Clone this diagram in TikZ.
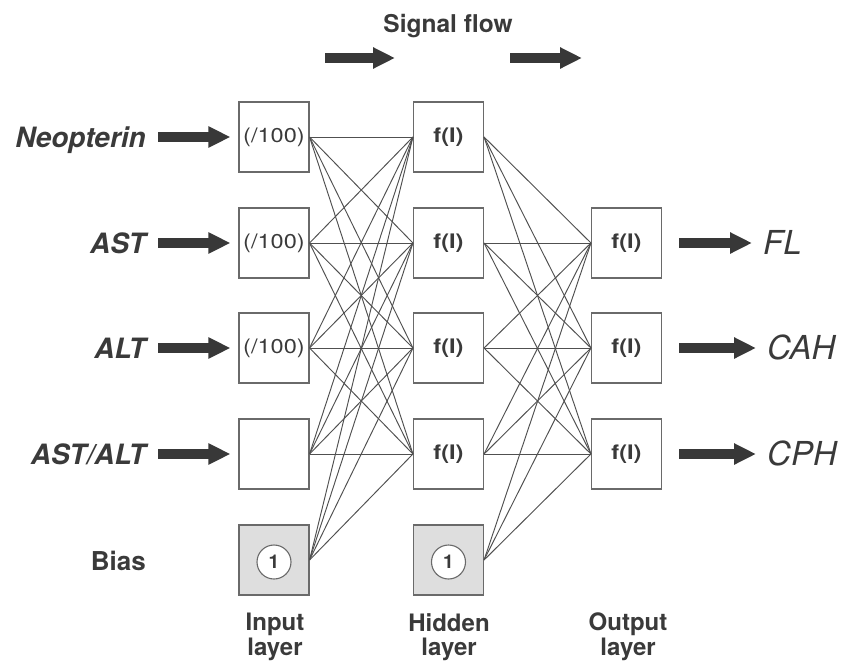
\documentclass[tikz,border=0pt]{standalone}
\usepackage{fontspec}
\usepackage{graphicx}
\setmainfont{TeX Gyre Heros}
\usetikzlibrary{arrows.meta}

\definecolor{ink}{HTML}{3A3A3A}
\definecolor{wirecol}{HTML}{505050}
\definecolor{framecol}{HTML}{6A6A6A}
\definecolor{stipple}{HTML}{DEDEDE}
\definecolor{fatcol}{HTML}{383838}

% text inside the units is set wide
\newcommand\unittext[1]{\scalebox{1.18}[1]{#1}}

\begin{document}
\begin{tikzpicture}[x=1pt,y=-1pt,
  unit/.style={draw=framecol, line width=1.1pt, minimum size=70pt, inner sep=0pt,
    text=ink, font=\fontsize{20}{24}\selectfont},
  biasunit/.style={unit, fill=stipple},
  onecircle/.style={circle, draw=framecol, line width=1.1pt, fill=white,
    minimum size=34pt, inner sep=0pt, text=ink, font=\fontsize{19}{22}\selectfont\bfseries},
  inlabel/.style={anchor=base east, inner sep=0pt, text=ink,
    font=\fontsize{28}{32}\selectfont\bfseries\itshape},
  outlabel/.style={anchor=base west, inner sep=0pt, text=ink,
    font=\fontsize{33}{36}\selectfont\itshape},
  layerlabel/.style={anchor=north, align=center, inner sep=0pt, text=ink,
    font=\fontsize{24}{24.5}\selectfont\bfseries},
  wire/.style={draw=wirecol, line width=0.95pt},
  fatarrow/.style={draw=fatcol, line width=10pt,
    -{Triangle[length=22pt,width=20pt]}},
]
\useasboundingbox (0,0) rectangle (844,662);

% --- title and flow arrows
\node[anchor=base, inner sep=0pt, text=ink, font=\fontsize{24.5}{28}\selectfont\bfseries]
  (title) at (448,32) {Signal flow};
\coordinate (s1a) at (325,58);
\coordinate (s1b) at (395,58);
\coordinate (s2a) at (510,58);
\coordinate (s2b) at (582,58);
\draw[fatarrow] (s1a) -- (s1b);
\draw[fatarrow] (s2a) -- (s2b);

% --- input layer
\node[unit] (i1) at (274,137) {\unittext{(/100)}};
\node[unit] (i2) at (274,243) {\unittext{(/100)}};
\node[unit] (i3) at (274,348) {\unittext{(/100)}};
\node[unit] (i4) at (274,454) {};
\node[biasunit] (ib) at (274,560) {};
\node[onecircle] (ic) at (274,562) {1};

% --- hidden layer
\node[unit] (h1) at (448.5,137) {\unittext{\bfseries f(I)}};
\node[unit] (h2) at (448.5,243) {\unittext{\bfseries f(I)}};
\node[unit] (h3) at (448.5,348) {\unittext{\bfseries f(I)}};
\node[unit] (h4) at (448.5,454) {\unittext{\bfseries f(I)}};
\node[biasunit] (hb) at (448.5,560) {};
\node[onecircle] (hc) at (448.5,562) {1};

% --- output layer
\node[unit] (o1) at (626.5,243) {\unittext{\bfseries f(I)}};
\node[unit] (o2) at (626.5,348) {\unittext{\bfseries f(I)}};
\node[unit] (o3) at (626.5,454) {\unittext{\bfseries f(I)}};

% --- connections
\foreach \a in {i1,i2,i3,i4,ib}
  \foreach \b in {h1,h2,h3,h4}
    \draw[wire] (\a.east) -- (\b.west);
\foreach \a in {h1,h2,h3,h4,hb}
  \foreach \b in {o1,o2,o3}
    \draw[wire] (\a.east) -- (\b.west);

% --- inputs
\node[inlabel] (neo) at (146,147) {Neopterin};
\node[inlabel] (ast) at (146,253) {AST};
\node[inlabel] (alt) at (146,358) {ALT};
\node[inlabel] (ratio) at (146,464) {AST/ALT};
\node[anchor=base east, inner sep=0pt, text=ink, font=\fontsize{26}{30}\selectfont\bfseries]
  (bias) at (146,570) {Bias};
\foreach \l/\u in {neo/i1,ast/i2,alt/i3,ratio/i4}
  \draw[fatarrow, shorten <=12pt, shorten >=8pt] (\l.east |- \u) -- (\u.west);

% --- outputs
\node[outlabel] (fl) at (763,254) {FL};
\node[outlabel] (cah) at (767,359) {CAH};
\node[outlabel] (cph) at (767,465) {CPH};
\foreach \u/\l in {o1/fl,o2/cah,o3/cph}
  \draw[fatarrow, shorten <=17pt, shorten >=11pt] (\u.east) -- (\l.west |- \u);

% --- layer captions
\node[layerlabel] (cin) at (275,613) {Input\\layer};
\node[layerlabel] (chid) at (449,613) {Hidden\\layer};
\node[layerlabel] (cout) at (628,613) {Output\\layer};
\end{tikzpicture}
\end{document}
